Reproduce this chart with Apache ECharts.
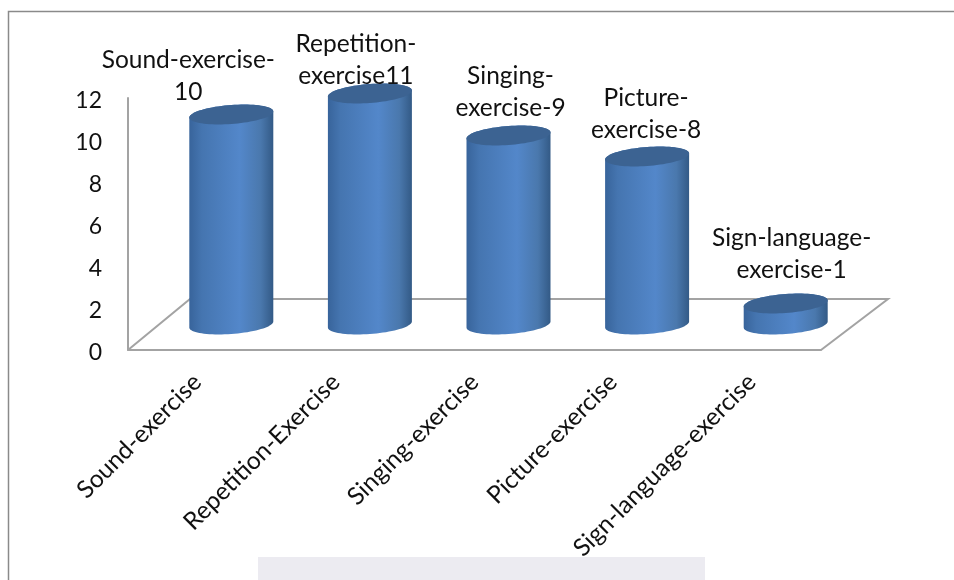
<!DOCTYPE html>
<html>
<head>
<meta charset="utf-8">
<style>html,body{margin:0;padding:0;background:#fff}#chart{width:954px;height:580px}</style>
<script src="https://cdn.jsdelivr.net/npm/echarts@6/dist/echarts.min.js"></script>
</head>
<body>
<div id="chart"></div>
<script>
// Exercise counts per training type
const categories = ['Sound-exercise', 'Repetition-Exercise', 'Singing-exercise', 'Picture-exercise', 'Sign-language-exercise'];
const values = [10, 11, 9, 8, 1];
const dataLabels = ['Sound-exercise-\n10', 'Repetition-\nexercise11', 'Singing-\nexercise-9', 'Picture-\nexercise-8', 'Sign-language-\nexercise-1'];
const yTicks = { min: 0, max: 12, interval: 2 };

// Hand-placed label offsets from the top of each cylinder, [dx, dy]
const labelNudge = [[-43, -6], [-14, -1], [2, -11], [-1, -10], [6, -17]];

// Oblique projection of the floor depth, in pixels
const FLOOR_DX = 62, FLOOR_DY = -51;
const CYL_RX = 42, CYL_RY = 9.5, CYL_TILT = 3;
const FONT = 'Lato, "Open Sans", sans-serif';
const LABEL_SIZE = 24.5;
const LINE = '#a3a3a3';

function ellipsePoint(cx, cy, t) {
  return [cx + CYL_RX * Math.cos(t), cy + CYL_RY * Math.sin(t) - CYL_TILT * Math.cos(t)];
}

function renderCylinder(params, api) {
  const i = api.value(0);
  const base = api.coord([i, 0]);
  const top = api.coord([i, api.value(1)]);
  const cx = base[0] + FLOOR_DX / 2 + 3;
  const yBase = base[1] + FLOOR_DY / 2;
  const yTop = top[1] + FLOOR_DY / 2;

  // Silhouette: lower half of the base ellipse, then upper half of the top ellipse
  const body = [];
  for (let k = 0; k <= 40; k++) body.push(ellipsePoint(cx, yBase, Math.PI * k / 40));
  for (let k = 0; k <= 40; k++) body.push(ellipsePoint(cx, yTop, Math.PI + Math.PI * k / 40));
  const cap = [];
  for (let k = 0; k < 80; k++) cap.push(ellipsePoint(cx, yTop, 2 * Math.PI * k / 80));

  const nudge = labelNudge[i];
  return {
    type: 'group',
    children: [
      {
        type: 'polygon',
        shape: { points: body },
        style: {
          fill: new echarts.graphic.LinearGradient(0, 0, 1, 0, [
            { offset: 0, color: '#38649b' },
            { offset: 0.15, color: '#4575b0' },
            { offset: 0.6, color: '#5387ca' },
            { offset: 0.85, color: '#4a78ad' },
            { offset: 1, color: '#335a86' }
          ])
        }
      },
      { type: 'polygon', shape: { points: cap }, style: { fill: '#3c6392' } },
      {
        type: 'text',
        z2: 10,
        style: {
          text: dataLabels[i],
          x: cx + nudge[0],
          y: yTop + nudge[1],
          align: 'center',
          verticalAlign: 'bottom',
          font: LABEL_SIZE + 'px ' + FONT,
          lineHeight: 32,
          fill: '#111'
        }
      }
    ]
  };
}

// Floor of the plot: back edge and the two receding sides
function renderFloor(params) {
  const c = params.coordSys;
  const x0 = c.x, x1 = c.x + c.width, y = c.y + c.height;
  return {
    type: 'polyline',
    shape: { points: [[x0, y], [x0 + FLOOR_DX, y + FLOOR_DY], [x1 + FLOOR_DX + 5, y + FLOOR_DY], [x1, y]] },
    style: { fill: null, stroke: LINE, lineWidth: 2 }
  };
}

const chart = echarts.init(document.getElementById('chart'), null, { renderer: 'canvas' });
chart.setOption({
  animation: false,
  backgroundColor: '#ffffff',
  grid: { left: 128, top: 98, width: 693, height: 252, containLabel: false },
  xAxis: {
    type: 'category',
    data: categories,
    boundaryGap: true,
    axisTick: { show: false },
    axisLine: { show: true, lineStyle: { color: LINE, width: 2 } },
    axisLabel: { rotate: 45, margin: 28, interval: 0, color: '#111', fontFamily: FONT, fontSize: LABEL_SIZE }
  },
  yAxis: {
    type: 'value',
    min: yTicks.min,
    max: yTicks.max,
    interval: yTicks.interval,
    splitLine: { show: false },
    axisTick: { show: false },
    axisLine: { show: true, lineStyle: { color: LINE, width: 2 } },
    axisLabel: {
      margin: 26,
      formatter: '{tick|{value}}',
      rich: { tick: { color: '#111', fontFamily: FONT, fontSize: 23, padding: [5, 0, 0, 0] } }
    }
  },
  series: [
    { type: 'custom', renderItem: renderFloor, data: [0], silent: true, z: 1 },
    {
      type: 'custom',
      renderItem: renderCylinder,
      encode: { x: 0, y: 1 },
      data: values.map((v, i) => [i, v]),
      z: 2
    }
  ],
  graphic: [
    // Page frame running off the top right, and the pale block at the foot of the page
    { type: 'polyline', silent: true, shape: { points: [[8.5, 580], [8.5, 11.5], [954, 11.5]] }, style: { fill: null, stroke: '#8a8a8a', lineWidth: 1.5 } },
    { type: 'rect', silent: true, z: -1, shape: { x: 258, y: 557, width: 447, height: 23 }, style: { fill: '#ecebf1' } }
  ]
});
</script>
</body>
</html>
